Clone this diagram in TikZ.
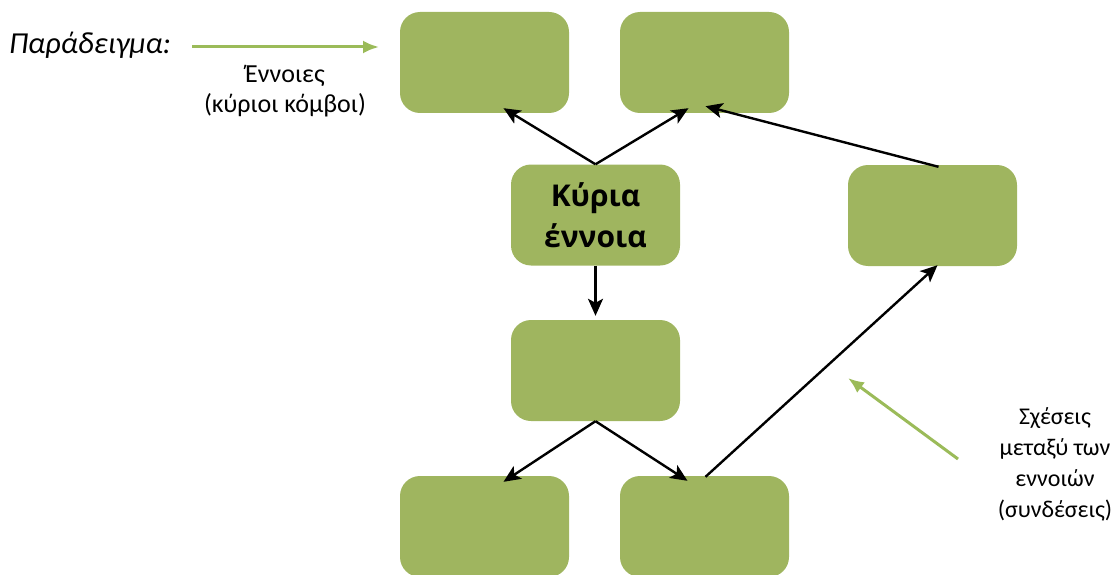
\documentclass[tikz,border=0pt]{standalone}
\usepackage{fontspec}
\setmainfont{Carlito}
\newfontfamily\boldfam{Open Sans}
\usetikzlibrary{arrows.meta,calc}
\definecolor{boxgreen}{RGB}{159,181,95}
\definecolor{argreen}{RGB}{155,187,89}
\begin{document}
\begin{tikzpicture}[x=1pt,y=-1pt,
  concept/.style={fill=boxgreen,draw=none,rounded corners=20pt,minimum width=169pt,minimum height=101pt,inner sep=0pt,align=center},
  link/.style={draw=black,line width=2.4pt,-{Stealth[length=17pt,width=15pt,inset=4pt]}},
  note/.style={draw=argreen,line width=3pt,-{Latex[length=16pt,width=13pt]}},
  lbl/.style={align=center,font=\fontsize{26}{30}\selectfont,inner sep=0pt}]
\useasboundingbox (0,0) rectangle (1111,575);
\node[concept] (tl) at (484.5,62.5) {};
\node[concept] (tr) at (704.5,62.5) {};
\node[concept,font=\boldfam\fontsize{30}{41}\selectfont\bfseries] (main) at (595.5,215) {Κύρια\\έννοια};
\node[concept] (right) at (932.5,215.5) {};
\node[concept] (mid) at (595.5,370.5) {};
\node[concept] (bl) at (484.5,526.5) {};
\node[concept] (br) at (704.5,526.5) {};

\draw[link] (main.north) -- ([xshift=19pt,yshift=5pt]tl.south);
\draw[link] (main.north) -- ([xshift=-16pt,yshift=5pt]tr.south);
\draw[link] ([xshift=6pt,yshift=-2pt]right.north) -- ([xshift=1pt,yshift=7pt]tr.south);
\draw[link,shorten >=4pt] (main.south) -- (mid.north);
\draw[link] (mid.south) -- ([xshift=19pt,yshift=-6pt]bl.north);
\draw[link] (mid.south) -- ([xshift=-17pt,yshift=-5pt]br.north);
\draw[link] ([xshift=1pt,yshift=-1pt]br.north) -- ([xshift=5pt,yshift=1pt]right.south);

\node[font=\fontsize{30.5}{34}\selectfont\itshape,inner sep=0pt] (ex) at (90,45) {Παράδειγμα:};
\coordinate (exs) at (192,47);
\coordinate (exe) at (379,47);
\draw[note] (exs) -- (exe);
\node[lbl] (cl) at (285,91) {Έννοιες\\(κύριοι κόμβοι)};
\node[lbl,font=\fontsize{24}{31}\selectfont] (rl) at (1055,464) {Σχέσεις\\μεταξύ των\\εννοιών\\(συνδέσεις)};
\coordinate (rs) at (958,459);
\coordinate (re) at (848,378);
\draw[note] (rs) -- (re);
\end{tikzpicture}
\end{document}
